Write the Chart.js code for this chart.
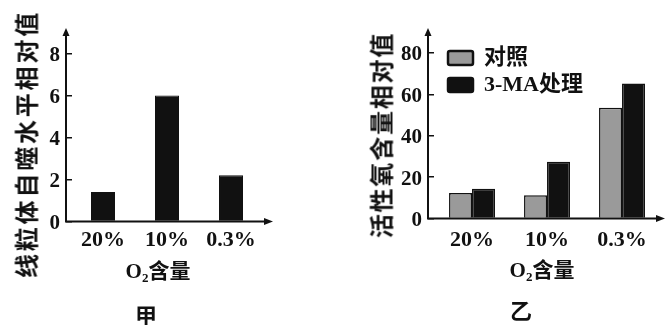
<!DOCTYPE html>
<html lang="zh">
<head>
<meta charset="utf-8">
<title>O2 含量与线粒体自噬、活性氧含量</title>
<script src="https://cdn.jsdelivr.net/npm/chart.js@4"></script>
<style>
  html, body { margin: 0; background: #fff; }
  #fig { position: relative; width: 665px; height: 325px; overflow: hidden; }
  #fig canvas { position: absolute; top: 0; }
  .lbl { position: absolute; transform: translate(-50%, -50%); white-space: nowrap; line-height: 1;
         font: bold 21px 'Liberation Serif', 'Noto Sans CJK SC', serif; color: #111; }
  .lbl.v { transform: translate(-50%, -50%) rotate(-90deg);
           font-family: 'Noto Sans CJK SC', sans-serif; font-size: 24px; }
  .lbl sub { font-size: 0.62em; vertical-align: -0.3em; }
</style>
</head>
<body>
<div id="fig">
  <canvas id="mito" width="290" height="325" style="left:0"></canvas>
  <canvas id="ros" width="335" height="325" style="left:330px"></canvas>

  <div class="lbl v" style="left:25px;top:144px;letter-spacing:2.8px">线粒体自噬水平相对值</div>
  <div class="lbl" style="left:158px;top:270px">O<sub>2</sub>含量</div>
  <div class="lbl" style="left:146px;top:314px;font-size:22px">甲</div>

  <div class="lbl v" style="left:380px;top:135px;letter-spacing:1.8px">活性氧含量相对值</div>
  <div class="lbl" style="left:542px;top:269px">O<sub>2</sub>含量</div>
  <div class="lbl" style="left:521px;top:309px;font-size:22px">乙</div>
</div>
<script>
(function () {
  'use strict';

  // ------------------------------------------------------------- data ----
  const O2_LEVELS = ['20%', '10%', '0.3%'];
  const MITOPHAGY = [1.4, 6, 2.2];             // 甲: mitophagy level
  const MITO_TICKS = [0, 2, 4, 6, 8];
  const ROS_SERIES = ['对照', '3-MA处理'];
  const ROS_CONTROL = [12.3, 11.2, 53.5];      // 乙: ROS, control
  const ROS_3MA = [14.4, 27.4, 65.3];          // 乙: ROS, 3-MA treated
  const ROS_TICKS = [0, 20, 40, 60, 80];

  const INK = '#111';
  const GREY = '#9a9a9a';

  Chart.defaults.color = INK;
  Chart.defaults.font.family = "'Liberation Serif', 'Noto Sans CJK SC', serif";
  Chart.defaults.font.weight = 'bold';
  Chart.defaults.animation = false;

  // O2 levels sit at x = 0, 1, 2 on a linear axis
  const points = vals => vals.map((y, i) => ({ x: i, y }));

  // ---------------------------------------------------- axis arrows ----
  const arrowAxes = {
    id: 'arrowAxes',
    afterDraw(chart) {
      const { ctx, chartArea: a } = chart;
      ctx.save();
      ctx.strokeStyle = ctx.fillStyle = INK;
      ctx.lineWidth = 2;
      ctx.beginPath();
      ctx.moveTo(a.left, a.top + 4);
      ctx.lineTo(a.left, a.bottom);
      ctx.lineTo(a.right - 4, a.bottom);
      ctx.stroke();
      ctx.beginPath();
      ctx.moveTo(a.left, a.top);
      ctx.lineTo(a.left - 3.5, a.top + 8);
      ctx.lineTo(a.left + 3.5, a.top + 8);
      ctx.fill();
      ctx.beginPath();
      ctx.moveTo(a.right, a.bottom);
      ctx.lineTo(a.right - 9, a.bottom - 3.5);
      ctx.lineTo(a.right - 9, a.bottom + 3.5);
      ctx.fill();
      ctx.restore();
    },
  };

  // park the chartArea legend at a fixed spot
  const legendAt = (left, top) => ({
    id: 'legendAt',
    afterLayout(chart) {
      const l = chart.legend;
      if (!l) return;
      l.left = left; l.top = top;
      l.right = left + l.width; l.bottom = top + l.height;
    },
  });

  function scales(o) {
    return {
      x: {
        type: 'linear', min: o.xMin, max: o.xMax, offset: false,
        grid: { display: false, drawTicks: false },
        border: { display: false },
        afterBuildTicks: s => { s.ticks = O2_LEVELS.map((_, i) => ({ value: i })); },
        afterFit: s => { s.height = o.xHeight; },
        ticks: { padding: o.xPad, font: { size: 22 }, callback: v => O2_LEVELS[v] },
      },
      y: {
        min: 0, max: o.yMax,
        grid: { drawOnChartArea: false, tickLength: -6, color: INK, lineWidth: 1.5 },
        border: { display: false },
        afterBuildTicks: s => { s.ticks = o.yTicks.map(value => ({ value })); },
        afterFit: s => { s.width = o.yWidth; },
        ticks: { padding: 12, font: { size: 21 }, labelOffset: 2 },
      },
    };
  }

  // ------------------------------------------------------------ 甲 ----
  new Chart(document.getElementById('mito'), {
    type: 'bar',
    data: {
      datasets: [{
        data: points(MITOPHAGY),
        backgroundColor: INK, borderColor: INK, borderWidth: 1,
        barPercentage: 0.375, categoryPercentage: 1,
      }],
    },
    options: {
      responsive: false,
      layout: { padding: { top: 28, right: 17, left: 0, bottom: 0 } },
      plugins: { legend: { display: false }, tooltip: { enabled: false } },
      scales: scales({ yMax: 9.21, yTicks: MITO_TICKS, yWidth: 66,
                       xMin: -0.578, xMax: 2.656, xHeight: 103.5, xPad: 6 }),
    },
    plugins: [arrowAxes],
  });

  // ------------------------------------------------------------ 乙 ----
  const baseLabels = Chart.defaults.plugins.legend.labels.generateLabels;
  new Chart(document.getElementById('ros'), {
    type: 'bar',
    data: {
      datasets: [
        { label: ROS_SERIES[0], data: points(ROS_CONTROL),
          backgroundColor: GREY, borderColor: INK, borderWidth: 1.5 },
        { label: ROS_SERIES[1], data: points(ROS_3MA),
          backgroundColor: INK, borderColor: INK, borderWidth: 1.5 },
      ],
    },
    options: {
      responsive: false,
      datasets: { bar: { barPercentage: 1, categoryPercentage: 0.613 } },
      layout: { padding: { top: 28, right: 0, left: 0, bottom: 0 } },
      plugins: {
        tooltip: { enabled: false },
        legend: {
          position: 'chartArea', align: 'start',
          labels: {
            boxWidth: 25, boxHeight: 14, padding: 5, color: INK,
            font: { size: 22 }, useBorderRadius: true,
            generateLabels: chart => baseLabels(chart)
              .map(it => Object.assign(it, { lineWidth: 2.5, borderRadius: 2 })),
          },
        },
      },
      scales: scales({ yMax: 92.1, yTicks: ROS_TICKS, yWidth: 98,
                       xMin: -0.587, xMax: 2.573, xHeight: 106.5, xPad: 9 }),
    },
    plugins: [arrowAxes, legendAt(113, 42)],
  });
})();
</script>
</body>
</html>
